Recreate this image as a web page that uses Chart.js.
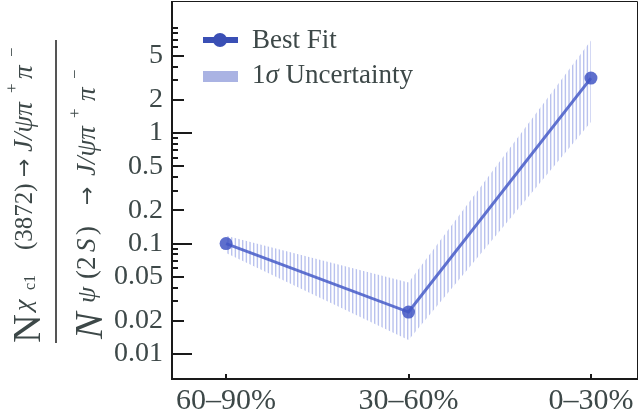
<!DOCTYPE html>
<html>
<head>
<meta charset="utf-8">
<script src="https://cdn.jsdelivr.net/npm/chart.js@4.4.1/dist/chart.umd.min.js"></script>
<style>
  html, body { margin: 0; padding: 0; background: #fff; }
  #wrap { width: 640px; height: 419px; }
</style>
</head>
<body>
<div id="wrap"><canvas id="ratioChart"></canvas></div>
<script>
const centralityLabels = ['60–90%', '30–60%', '0–30%'];
const bestFit = [0.1, 0.024, 3.15];
const upperBand = [0.118, 0.0445, 6.9];
const lowerBand = [0.082, 0.0134, 1.26];
const yTickValues = [0.01, 0.02, 0.05, 0.1, 0.2, 0.5, 1, 2, 5];

const textColor = '#3d4848';
const serif = '"Liberation Serif", "DejaVu Serif", serif';

const canvas = document.getElementById('ratioChart');
const ctx0 = canvas.getContext('2d');

// vertical hatching for the 1 sigma band
function hatch() {
    const c = document.createElement('canvas');
    c.width = 11; c.height = 4;
    const g = c.getContext('2d');
    g.fillStyle = '#bac2ee';
    [0, 3.67, 7.33].forEach(x => g.fillRect(x, 0, 1.4, 4));
    return ctx0.createPattern(c, 'repeat');
}

const pts = arr => arr.map((v, i) => ({x: i, y: v}));

// y-axis label: N^{...} / N^{...}, drawn rotated
function drawRich(ctx, segs) {
    segs.forEach(s => {
        ctx.font = s.f;
        ctx.fillText(s.t, -s.at, s.y);
    });
}

const numer = [
    {t: 'N', f: '40px ' + serif, at: 343, y: 40},
    {t: 'χ', f: 'italic 26px ' + serif, at: 311, y: 31},
    {t: 'c1', f: '16px ' + serif, at: 290, y: 35},
    {t: '(3872)', f: '25px ' + serif, at: 250, y: 32},
    {t: '→', f: '22px "DejaVu Sans", sans-serif', at: 177, y: 31},
    {t: 'J/ψπ', f: 'italic 27px ' + serif, at: 152, y: 32},
    {t: '+', f: '17px ' + serif, at: 93, y: 17},
    {t: 'π', f: 'italic 27px ' + serif, at: 79, y: 32},
    {t: '−', f: '17px ' + serif, at: 57, y: 17}
];
const denom = [
    {t: 'N', f: 'italic 40px ' + serif, at: 339, y: 102},
    {t: 'ψ', f: 'italic 26px ' + serif, at: 303, y: 95},
    {t: '(', f: '27px ' + serif, at: 279, y: 95},
    {t: '2', f: '27px ' + serif, at: 270, y: 95},
    {t: 'S', f: 'italic 27px ' + serif, at: 252, y: 95},
    {t: ')', f: '27px ' + serif, at: 235, y: 95},
    {t: '→', f: '22px "DejaVu Sans", sans-serif', at: 205, y: 94},
    {t: 'J/ψπ', f: 'italic 27px ' + serif, at: 176, y: 95},
    {t: '+', f: '17px ' + serif, at: 118, y: 80},
    {t: 'π', f: 'italic 27px ' + serif, at: 101, y: 95},
    {t: '−', f: '17px ' + serif, at: 79, y: 80}
];

const decor = {
    id: 'decor',
    afterDraw(chart) {
        const {ctx, chartArea: a, scales: {x, y}} = chart;
        ctx.save();
        // frame
        ctx.strokeStyle = '#1a1a1a';
        ctx.lineWidth = 1;
        ctx.beginPath();
        ctx.moveTo(a.left, a.top + 0.5); ctx.lineTo(a.right - 0.5, a.top + 0.5); ctx.lineTo(a.right - 0.5, a.bottom);
        ctx.stroke();
        ctx.lineWidth = 2;
        ctx.beginPath();
        ctx.moveTo(a.left + 1, a.top); ctx.lineTo(a.left + 1, a.bottom);
        ctx.moveTo(a.left, a.bottom - 1); ctx.lineTo(a.right, a.bottom - 1);
        ctx.stroke();

        // inner y ticks
        ctx.beginPath();
        for (let e = -2; e <= 0; e++) {
            for (let m = 1; m <= 9; m++) {
                const v = m * Math.pow(10, e);
                const py = Math.round(y.getPixelForValue(v));
                const len = m === 1 ? 19 : (m === 2 || m === 5) ? 11 : 5;
                ctx.moveTo(a.left, py); ctx.lineTo(a.left + 2 + len, py);
            }
        }
        ctx.stroke();
        // x ticks
        ctx.beginPath();
        [0, 1, 2].forEach(i => {
            const px = Math.round(x.getPixelForValue(i));
            ctx.moveTo(px, a.bottom - 1); ctx.lineTo(px, a.bottom - 6);
        });
        ctx.stroke();

        // legend
        ctx.strokeStyle = '#3a4fb5';
        ctx.fillStyle = '#3a4fb5';
        ctx.lineWidth = 6;
        ctx.beginPath(); ctx.moveTo(203, 40); ctx.lineTo(238, 40); ctx.stroke();
        ctx.beginPath(); ctx.arc(220, 40, 7, 0, Math.PI * 2); ctx.fill();
        ctx.fillStyle = '#aab3e3';
        ctx.fillRect(203, 71, 35, 11);
        ctx.fillStyle = textColor;
        ctx.textBaseline = 'alphabetic';
        ctx.font = '27px ' + serif;
        ctx.fillText('Best Fit', 252, 48);
        ctx.fillText('1', 252, 83);
        const w1 = ctx.measureText('1').width;
        ctx.font = 'italic 27px ' + serif;
        ctx.fillText('σ', 252 + w1, 83);
        const w2 = ctx.measureText('σ').width;
        ctx.font = '27px ' + serif;
        ctx.fillText(' Uncertainty', 252 + w1 + w2, 83);

        // y label
        ctx.save();
        ctx.rotate(-Math.PI / 2);
        drawRich(ctx, numer);
        drawRich(ctx, denom);
        ctx.restore();
        ctx.strokeStyle = '#555';
        ctx.lineWidth = 2;
        ctx.beginPath(); ctx.moveTo(56, 40); ctx.lineTo(56, 343); ctx.stroke();
        ctx.restore();
    }
};

new Chart(ctx0, {
    type: 'line',
    data: {
        datasets: [
            {
                label: 'Best Fit',
                data: pts(bestFit),
                borderColor: 'rgba(70,92,200,0.85)',
                borderWidth: 3,
                pointRadius: 6.5,
                pointBackgroundColor: 'rgba(66,86,196,0.85)',
                pointBorderWidth: 0,
                fill: false
            },
            {
                label: 'upper',
                data: pts(upperBand),
                borderWidth: 0,
                pointRadius: 0,
                backgroundColor: hatch(),
                fill: '+1'
            },
            {
                label: 'lower',
                data: pts(lowerBand),
                borderWidth: 0,
                pointRadius: 0,
                fill: false
            }
        ]
    },
    options: {
        responsive: true,
        maintainAspectRatio: false,
        animation: false,
        layout: {autoPadding: false, padding: {top: 1, right: 2, left: 0, bottom: 0}},
        scales: {
            x: {
                type: 'linear',
                min: -0.302,
                max: 2.258,
                afterBuildTicks: s => { s.ticks = [0, 1, 2].map(v => ({value: v})); },
                afterFit: s => { s.height = 39; s.paddingLeft = 0; s.paddingRight = 0; },
                ticks: {
                    callback: v => centralityLabels[v],
                    font: {family: serif, size: 30},
                    color: textColor,
                    padding: 3,
                    maxRotation: 0,
                    autoSkip: false
                },
                grid: {display: false, drawTicks: false},
                border: {display: false}
            },
            y: {
                type: 'logarithmic',
                min: 0.00582,
                max: 15.7,
                afterBuildTicks: s => { s.ticks = yTickValues.map(v => ({value: v})); },
                afterFit: s => { s.width = 171; s.paddingTop = 0; s.paddingBottom = 0; },
                ticks: {
                    callback: v => String(v),
                    font: {family: serif, size: 28},
                    color: textColor,
                    padding: 8,
                    autoSkip: false
                },
                grid: {display: false, drawTicks: false},
                border: {display: false}
            }
        },
        plugins: {
            legend: {display: false},
            tooltip: {enabled: false}
        }
    },
    plugins: [decor]
});
</script>
</body>
</html>
